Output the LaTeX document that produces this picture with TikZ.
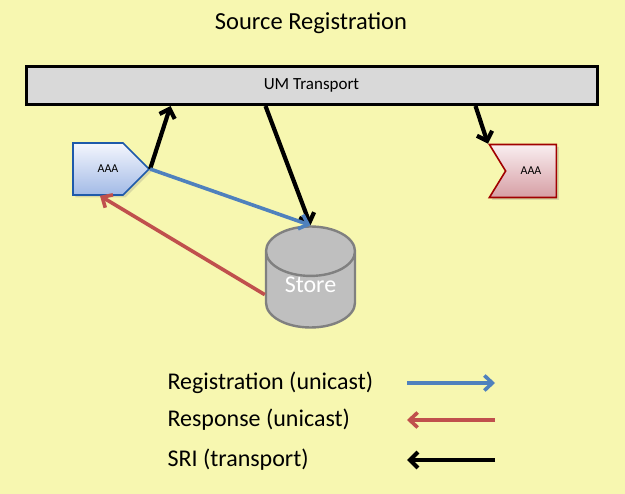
\documentclass[tikz,border=0pt]{standalone}
\usepackage{fontspec}
\setmainfont{Carlito}
\usetikzlibrary{arrows.meta,shapes.geometric,shapes.symbols,shadows}
\definecolor{bg}{RGB}{247,247,176}
\definecolor{barfill}{RGB}{217,217,217}
\definecolor{storefill}{RGB}{191,191,191}
\definecolor{storeline}{RGB}{128,128,128}
\definecolor{regblue}{RGB}{79,129,189}
\definecolor{respred}{RGB}{192,80,77}
\definecolor{srcline}{RGB}{30,90,170}
\definecolor{srctop}{RGB}{244,246,253}
\definecolor{srcbot}{RGB}{162,186,230}
\definecolor{rcvline}{RGB}{160,0,0}
\definecolor{rcvtop}{RGB}{249,238,240}
\definecolor{rcvbot}{RGB}{214,158,164}

\begin{document}
\begin{tikzpicture}[x=1pt,y=-1pt,
    sri/.style={line width=4.2pt,-{Straight Barb[length=8pt,width=16pt]}},
    reg/.style={line width=3.6pt,draw=regblue,-{Straight Barb[length=8pt,width=15pt]}},
    resp/.style={line width=3.6pt,draw=respred,-{Straight Barb[length=8pt,width=15pt]}},
    lbl/.style={anchor=west,font=\fontsize{24}{28}\selectfont}]
    \fill[bg] (0,0) rectangle (625,494);
    \useasboundingbox (0,0) rectangle (625,494);
    \node[font=\fontsize{24.5}{28}\selectfont] at (311,23) (title) {Source Registration};
    \node[draw,line width=3pt,fill=barfill,minimum width=571pt,minimum height=38pt,font=\fontsize{17}{20}\selectfont] at (311.5,85.5) (um) {UM Transport};
    \node[signal,signal to=east,signal pointer angle=90,draw=srcline,line width=1.6pt,top color=srctop,bottom color=srcbot,minimum width=76pt,minimum height=52pt,inner sep=0pt,drop shadow={opacity=0.25},font=\fontsize{12}{14}\selectfont] at (98,169) (src) {\hspace*{20pt}AAA};
    \node[signal,signal to=nowhere,signal from=west,signal pointer angle=117,draw=rcvline,line width=1.6pt,top color=rcvtop,bottom color=rcvbot,minimum width=67pt,minimum height=53pt,inner sep=0pt,drop shadow={opacity=0.25},font=\fontsize{12}{14}\selectfont] at (531,171) (rcv) {AAA};
    \node[cylinder,shape border rotate=90,aspect=0.85,draw=storeline,line width=2.4pt,fill=storefill,minimum width=89pt,minimum height=101pt,text=white,font=\fontsize{24}{28}\selectfont,anchor=shape center] at (310.5,277) (store) {\smash{\raisebox{2pt}{Store}}};
    \draw[sri] (src.east) -- ([xshift=-141pt]um.south);
    \draw[sri] ([xshift=-46pt]um.south) -- (store.north);
    \draw[sri] ([xshift=164pt]um.south) -- (rcv.north west);
    \draw[reg] (src.east) -- (store.north);
    \draw[resp] (store.west) -- ([xshift=2pt]src.south);
    % legend
    \node[lbl] at (164,383) (l1) {Registration (unicast)};
    \node[lbl] at (164,420) (l2) {Response (unicast)};
    \node[lbl] at (164,460) (l3) {SRI (transport)};
    \coordinate (a1) at (407,383);
    \coordinate (b1) at (495,383);
    \coordinate (a2) at (407,420);
    \coordinate (b2) at (495,420);
    \coordinate (a3) at (407,460);
    \coordinate (b3) at (495,460);
    \draw[reg] (a1) -- (b1);
    \draw[resp] (b2) -- (a2);
    \draw[sri] (b3) -- (a3);
\end{tikzpicture}
\end{document}
